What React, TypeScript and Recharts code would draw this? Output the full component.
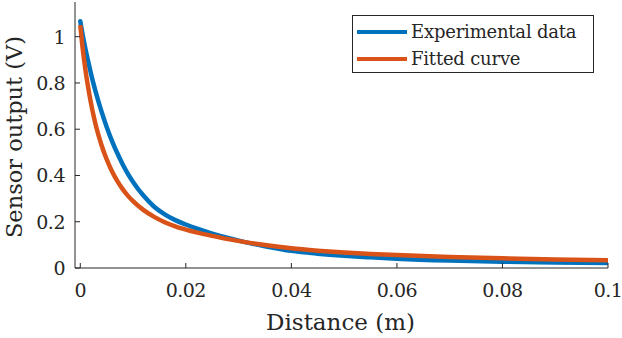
import { LineChart, Line, XAxis, YAxis, Legend } from 'recharts'

// distance (m) at which the curves were read
const distance = [
  0, 0.0005, 0.001, 0.0015, 0.002, 0.0025, 0.003, 0.004, 0.005, 0.006, 0.007, 0.008,
  0.009, 0.01, 0.012, 0.014, 0.016, 0.018, 0.02, 0.022, 0.025, 0.028, 0.031, 0.035,
  0.04, 0.045, 0.05, 0.055, 0.06, 0.07, 0.08, 0.09, 0.1,
]
const experimental = [
  1.067, 1.002, 0.945, 0.893, 0.843, 0.797, 0.755, 0.678, 0.61, 0.55, 0.497, 0.45,
  0.408, 0.372, 0.312, 0.265, 0.232, 0.207, 0.188, 0.171, 0.149, 0.13, 0.113, 0.094,
  0.074, 0.062, 0.053, 0.046, 0.04, 0.032, 0.027, 0.024, 0.022,
]
const fitted = [
  1.05, 0.94, 0.853, 0.78, 0.716, 0.66, 0.612, 0.533, 0.47, 0.418, 0.377, 0.342,
  0.313, 0.289, 0.25, 0.221, 0.198, 0.18, 0.166, 0.154, 0.139, 0.125, 0.113, 0.099,
  0.085, 0.075, 0.067, 0.061, 0.056, 0.048, 0.042, 0.037, 0.034,
]
const xTicks = [0, 0.02, 0.04, 0.06, 0.08, 0.1]
const yTicks = [0, 0.2, 0.4, 0.6, 0.8, 1]

const BLUE = '#0072BD'
const ORANGE = '#D95319'
const INK = '#262626'
const FONT = 'DejaVu Serif'

const data = distance.map((x, i) => ({ x, exp: experimental[i], fit: fitted[i] }))

const fmt = (v: number) => String(v)

function BottomTick(props: any) {
  const { x, y, payload } = props
  return (
    <g>
      <line x1={x} y1={y - 14} x2={x} y2={y - 19} stroke={INK} />
      <text x={x} y={y} dy="0.78em" textAnchor="middle" fill={INK} fontSize={19}
        letterSpacing={-0.5} style={{ fontFamily: FONT }}>
        {fmt(payload.value)}
      </text>
    </g>
  )
}

function LeftTick(props: any) {
  const { x, y, payload } = props
  return (
    <g>
      <line x1={x + 10} y1={y} x2={x + 15} y2={y} stroke={INK} />
      <text x={x} y={y} dy="0.36em" textAnchor="end" fill={INK} fontSize={19}
        letterSpacing={-0.5} style={{ fontFamily: FONT }}>
        {fmt(payload.value)}
      </text>
    </g>
  )
}

function TopTick(props: any) {
  const { x, y } = props
  return <line x1={x} y1={y} x2={x} y2={y + 5} stroke={INK} />
}

function RightTick(props: any) {
  const { x, y } = props
  return <line x1={x} y1={y} x2={x - 5} y2={y} stroke={INK} />
}

function XLabel({ viewBox }: any) {
  return (
    <text x={viewBox.x + viewBox.width / 2 - 1} y={322} dy="0.36em" textAnchor="middle"
      fill={INK} fontSize={23} style={{ fontFamily: FONT }}>
      Distance (m)
    </text>
  )
}

function YLabel({ viewBox }: any) {
  const cx = 14
  const cy = viewBox.y + viewBox.height / 2 + 2
  return (
    <text x={cx} y={cy} dy="0.36em" textAnchor="middle" transform={`rotate(-90 ${cx} ${cy})`}
      fill={INK} fontSize={22.5} style={{ fontFamily: FONT }}>
      Sensor output (V)
    </text>
  )
}

function LegendBox() {
  const rows = [
    { name: 'Experimental data', color: BLUE },
    { name: 'Fitted curve', color: ORANGE },
  ]
  return (
    <div style={{
      width: 242, height: 58, border: `1px solid ${INK}`, background: '#fff',
      boxSizing: 'border-box', paddingTop: 2,
    }}>
      {rows.map(r => (
        <div key={r.name} style={{ display: 'flex', alignItems: 'center', height: 27 }}>
          <div style={{ width: 50, height: 4, background: r.color, marginLeft: 4, marginRight: 4, flexShrink: 0 }} />
          <span style={{
            fontFamily: FONT, fontSize: 18, color: INK, lineHeight: '27px',
            whiteSpace: 'nowrap', letterSpacing: -0.2,
          }}>
            {r.name}
          </span>
        </div>
      ))}
    </div>
  )
}

export default function App() {
  return (
    <div style={{ position: 'absolute', left: 0, top: 0, background: '#fff' }}>
      <LineChart width={622} height={338} data={data} margin={{ top: 2, right: 14, left: 0, bottom: 0 }}>
        <XAxis
          xAxisId="b" dataKey="x" type="number" domain={[-0.001, 0.1]} ticks={xTicks}
          allowDataOverflow height={70} stroke={INK} tickLine={false} tickSize={0} tickMargin={14}
          tick={<BottomTick />} label={<XLabel />}
        />
        <XAxis
          xAxisId="t" dataKey="x" type="number" orientation="top" domain={[-0.001, 0.1]} ticks={xTicks}
          allowDataOverflow height={0} stroke={INK} tickLine={false} tickSize={0} tickMargin={0}
          tick={<TopTick />}
        />
        <YAxis
          yAxisId="l" type="number" domain={[0, 1.15]} ticks={yTicks} allowDataOverflow width={75}
          stroke={INK} tickLine={false} tickSize={0} tickMargin={10} tick={<LeftTick />} label={<YLabel />}
        />
        <YAxis
          yAxisId="r" type="number" orientation="right" domain={[0, 1.15]} ticks={yTicks} allowDataOverflow
          width={0} stroke={INK} tickLine={false} tickSize={0} tickMargin={0} tick={<RightTick />}
        />
        <Legend
          layout="vertical" align="center" verticalAlign="middle" content={<LegendBox />}
          wrapperStyle={{ position: 'absolute', left: 352, top: 15, width: 'auto' }}
        />
        <Line
          xAxisId="b" yAxisId="l" type="monotone" dataKey="exp" name="Experimental data" stroke={BLUE}
          strokeWidth={4.5} strokeLinecap="round" dot={false} isAnimationActive={false}
        />
        <Line
          xAxisId="b" yAxisId="l" type="monotone" dataKey="fit" name="Fitted curve" stroke={ORANGE}
          strokeWidth={4.5} dot={false} isAnimationActive={false}
        />
      </LineChart>
    </div>
  )
}
